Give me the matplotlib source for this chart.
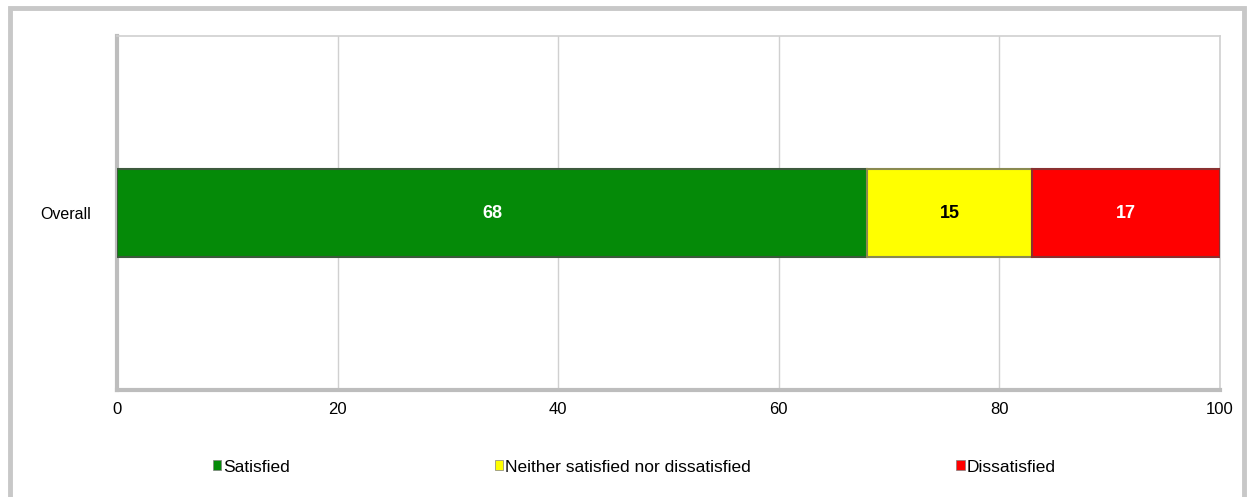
import matplotlib.pyplot as plt
from matplotlib.patches import Rectangle, Patch

plt.rcParams['font.family'] = ['Liberation Sans', 'DejaVu Sans']

# Datos
categorias = ['Overall']
series = ['Satisfied', 'Neither satisfied nor dissatisfied', 'Dissatisfied']
valores = [68, 15, 17]
colores = ['#058A08', '#FFFF00', '#FF0000']
bordes = ['#3C5A3C', '#8A8A50', '#8A3030']
color_texto = ['white', 'black', 'white']
xticks = [0, 20, 40, 60, 80, 100]

fig = plt.figure(figsize=(12.47, 4.97), dpi=100)

# Marco exterior
fig.patches.append(Rectangle((10/1247, -0.1), (1244-10)/1247, 1.1 - 8/497,
                             transform=fig.transFigure, fill=False,
                             edgecolor='#C8C8C8', linewidth=3.5, zorder=0))

ax = fig.add_axes([117/1247, 1-390/497, (1220-117)/1247, (390-36)/497])

izq = 0
for v, c, b, t in zip(valores, colores, bordes, color_texto):
    ax.barh(categorias, [v], left=izq, height=0.25, color=c, edgecolor=b,
            linewidth=1.5, zorder=3)
    ax.text(izq + v/2, 0, str(v), ha='center', va='center', color=t,
            fontsize=13, fontweight='bold', zorder=4)
    izq += v

ax.set_xlim(0, 100)
ax.set_ylim(-0.5, 0.5)
ax.set_xticks(xticks)
ax.set_xticklabels([str(x) for x in xticks], fontsize=12)
ax.tick_params(axis='x', length=0, pad=9)
ax.tick_params(axis='y', length=0, pad=19, labelsize=11.5)
ax.grid(axis='x', color='#D0D0D0', linewidth=1, zorder=0)

for s in ['top', 'right']:
    ax.spines[s].set_color('#D0D0D0')
    ax.spines[s].set_linewidth(1.2)
for s in ['left', 'bottom']:
    ax.spines[s].set_color('#BDBDBD')
    ax.spines[s].set_linewidth(3)

handles = [Patch(facecolor=c, edgecolor='#808080', linewidth=0.5) for c in colores]
fig.legend(handles, series, loc='center', bbox_to_anchor=(634/1247, 1-467/497),
           ncol=3, frameon=False, fontsize=12.5, handlelength=0.5,
           handleheight=0.5, handletextpad=0.1, columnspacing=11.8)

fig.savefig('out.png', dpi=100)
